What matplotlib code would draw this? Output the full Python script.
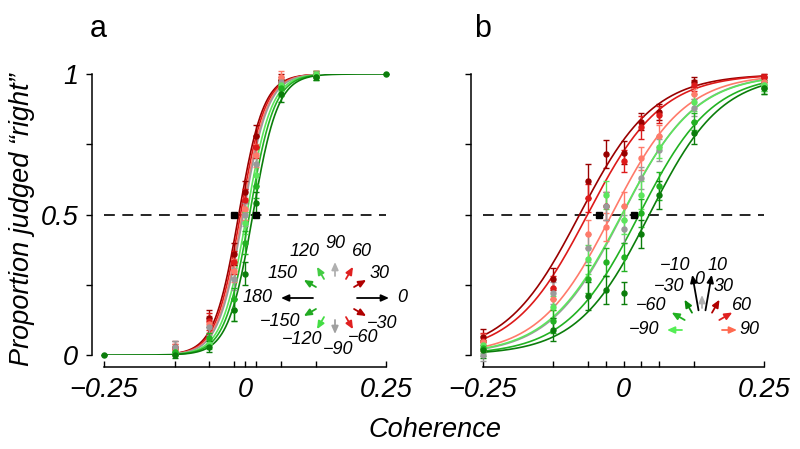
import matplotlib
matplotlib.use("Agg")
import matplotlib.pyplot as plt
import numpy as np

plt.rcParams["font.family"] = ["Liberation Sans", "DejaVu Sans"]

nan = np.nan

# signed coherence levels used in each experiment
coh_a = [-0.25, -0.125, -0.064, -0.02, 0.0, 0.02, 0.064, 0.125, 0.25]
coh_b = [-0.25, -0.125, -0.064, -0.032, 0.0, 0.032, 0.064, 0.125, 0.25]
xtick_labels = ["\u22120.25", "", "", "", "0", "", "", "", "0.25"]
ytick_vals = [0, 0.25, 0.5, 0.75, 1]
ytick_labels = ["0", "", "0.5", "", "1"]

# condition colours, dark red -> dark green
cond_colors = ["#990000", "#dd1a1a", "#ff7a6a", "#9a9a9a", "#5ce65c", "#22b222", "#0b7d0b"]

# panel a: proportion judged right (rows follow cond_colors)
prop_a = [
    [nan, 0.03, 0.13, 0.36, 0.58, 0.78, 0.98, 1.00, nan],
    [nan, 0.02, 0.12, 0.33, 0.55, 0.74, 0.97, 1.00, nan],
    [nan, 0.02, 0.11, 0.30, 0.52, 0.71, 0.99, 1.00, nan],
    [nan, 0.03, 0.10, 0.27, 0.50, 0.68, 0.97, 1.00, nan],
    [nan, 0.01, 0.04, 0.16, 0.47, 0.64, 0.96, 1.00, nan],
    [nan, 0.01, 0.06, 0.20, 0.40, 0.60, 0.95, 0.99, nan],
    [0.00, 0.00, 0.03, 0.16, 0.29, 0.54, 0.93, 0.99, 1.00],
]
err_a = [
    [nan, 0.02, 0.03, 0.04, 0.04, 0.04, 0.02, 0.01, nan],
    [nan, 0.02, 0.03, 0.04, 0.04, 0.04, 0.02, 0.01, nan],
    [nan, 0.02, 0.03, 0.04, 0.04, 0.04, 0.02, 0.01, nan],
    [nan, 0.02, 0.03, 0.04, 0.04, 0.04, 0.02, 0.01, nan],
    [nan, 0.01, 0.02, 0.04, 0.04, 0.04, 0.02, 0.01, nan],
    [nan, 0.01, 0.02, 0.04, 0.04, 0.04, 0.03, 0.01, nan],
    [0.00, 0.01, 0.02, 0.04, 0.04, 0.04, 0.03, 0.01, 0.00],
]
mu_a = [-0.011, -0.008, -0.005, -0.003, 0.003, 0.008, 0.014]
sig_a = [0.022, 0.022, 0.022, 0.022, 0.022, 0.022, 0.022]
pse_a = [-0.019, 0.02]

# panel b
prop_b = [
    [0.064, 0.27, 0.62, 0.715, 0.72, 0.83, 0.865, 0.97, 0.99],
    [0.05, 0.24, 0.56, 0.53, 0.69, 0.81, 0.855, 0.96, 0.99],
    [0.046, 0.20, 0.43, 0.455, 0.53, 0.70, 0.78, 0.93, 0.97],
    [0.00, 0.22, 0.38, 0.53, 0.45, 0.63, 0.73, 0.88, 0.96],
    [0.036, 0.17, 0.34, 0.57, 0.48, 0.57, 0.74, 0.90, 0.96],
    [0.025, 0.12, 0.27, 0.33, 0.35, 0.505, 0.60, 0.83, 0.95],
    [0.018, 0.09, 0.21, 0.23, 0.22, 0.43, 0.57, 0.79, 0.95],
]
err_b = [
    [0.03, 0.04, 0.06, 0.05, 0.04, 0.03, 0.03, 0.02, 0.01],
    [0.03, 0.04, 0.05, 0.05, 0.04, 0.04, 0.03, 0.02, 0.01],
    [0.03, 0.04, 0.05, 0.05, 0.05, 0.04, 0.04, 0.02, 0.01],
    [0.02, 0.04, 0.05, 0.05, 0.05, 0.04, 0.04, 0.03, 0.02],
    [0.03, 0.04, 0.05, 0.05, 0.05, 0.05, 0.04, 0.03, 0.02],
    [0.03, 0.04, 0.05, 0.05, 0.05, 0.05, 0.05, 0.03, 0.02],
    [0.03, 0.04, 0.05, 0.05, 0.04, 0.05, 0.05, 0.04, 0.02],
]
mu_b = [-0.078, -0.064, -0.021, -0.002, -0.003, 0.028, 0.046]
sig_b = [0.066, 0.066, 0.065, 0.065, 0.066, 0.065, 0.064]
pse_b = [-0.044, 0.018]

# direction keys
dirs_a = [0, 30, 60, 90, 120, 150, 180, -150, -120, -90, -60, -30]
dir_colors_a = ["black", "#b00000", "#e02020", "#b0b0b0", "#44cc44", "#22aa22",
                "black", "#22aa22", "#44dd44", "#a0a0a0", "#e02020", "#b00000"]
dirs_b = [-90, -60, -30, -10, 0, 10, 30, 60, 90]
dir_colors_b = ["#55ee55", "#22b222", "#0b8a0b", "black", "#b0b0b0", "black",
                "#b00000", "#e02020", "#ff6a50"]

# label placement of key a (pixel offsets from the key centre)
lab_off_a = [(62, 0), (45, -25), (27, -46), (0, -55), (-30, -46), (-52, -25),
             (-62, 0), (-55, 23), (-33, 42), (3, 51), (28, 40), (47, 25)]

W, H = 800, 449
fig = plt.figure(figsize=(W / 100, H / 100), dpi=100)


def setup(ax, ticks, show_ylabels):
    ax.set_xlim(-0.25, 0.25)
    ax.set_ylim(0, 1)
    for s in ["top", "right"]:
        ax.spines[s].set_visible(False)
    ax.spines["left"].set_position(("outward", 8.5))
    ax.spines["bottom"].set_position(("outward", 8.5))
    ax.spines["left"].set_bounds(0, 1)
    ax.spines["bottom"].set_bounds(-0.25, 0.25)
    for s in ["left", "bottom"]:
        ax.spines[s].set_linewidth(1.1)
    ax.set_xticks(ticks)
    ax.set_xticklabels(xtick_labels, fontsize=19.5, style="italic")
    ax.set_yticks(ytick_vals)
    ax.set_yticklabels(ytick_labels if show_ylabels else [], fontsize=19.5, style="italic")
    ax.tick_params(axis="x", direction="in", length=4, width=1, pad=7)
    ax.tick_params(axis="y", direction="out", length=4, width=1, pad=6)
    ax.axhline(0.5, color="black", lw=1.2, ls=(0, (6.5, 4.5)), zorder=1)


def draw(ax, coh, props, errs, mus, sigs, pse):
    coh = np.array(coh)
    for p, e, mu, sg, col in zip(props, errs, mus, sigs, cond_colors):
        p = np.array(p)
        e = np.array(e)
        ok = ~np.isnan(p)
        xx = np.linspace(coh[ok].min(), coh[ok].max(), 300)
        ax.plot(xx, 1 / (1 + np.exp(-(xx - mu) / sg)), color=col, lw=1.2, zorder=2)
        ax.errorbar(coh[ok], p[ok], yerr=e[ok], fmt="o", ms=3.6, color=col,
                    ecolor=col, elinewidth=1, capsize=2.5, capthick=1,
                    clip_on=False, zorder=3)
    ax.plot(pse, [0.5, 0.5], "s", color="black", ms=5, zorder=4)


ax_a = fig.add_axes([104 / W, 1 - 355 / H, 282 / W, 281 / H])
setup(ax_a, coh_a, True)
draw(ax_a, coh_a, prop_a, err_a, mu_a, sig_a, pse_a)

ax_b = fig.add_axes([483 / W, 1 - 355 / H, 281 / W, 281 / H])
setup(ax_b, coh_b, False)
draw(ax_b, coh_b, prop_b, err_b, mu_b, sig_b, pse_b)

fig.text(98 / W, 1 - 37 / H, "a", fontsize=22, ha="center", va="baseline")
fig.text(483 / W, 1 - 37 / H, "b", fontsize=22, ha="center", va="baseline")
fig.text(22 / W, 1 - 220 / H, "Proportion judged \u201cright\u201d", rotation=90,
         fontsize=19.5, style="italic", ha="center", va="center")
fig.text(435 / W, 1 - 430 / H, "Coherence", fontsize=19.5, style="italic",
         ha="center", va="center")

# overlay in pixel coordinates for the direction keys
ov = fig.add_axes([0, 0, 1, 1])
ov.set_xlim(0, W)
ov.set_ylim(H, 0)
ov.axis("off")
ov.patch.set_alpha(0)


def arrow(x0, y0, x1, y1, col):
    ov.annotate("", xy=(x1, y1), xytext=(x0, y0),
                arrowprops=dict(arrowstyle="-|>,head_length=0.45,head_width=0.2",
                                color=col, lw=1.3, shrinkA=0, shrinkB=0,
                                mutation_scale=10))


# key a: counter-clockwise from rightward
cx, cy = 335, 298
for d, col, (dx, dy) in zip(dirs_a, dir_colors_a, lab_off_a):
    t = np.deg2rad(d)
    ux, uy = np.cos(t), -np.sin(t)
    r1 = 54 if col == "black" else 36
    arrow(cx + 22 * ux, cy + 22 * uy, cx + r1 * ux, cy + r1 * uy, col)
    lab = str(d).replace("-", "\u2212")
    ha = "right" if d == 180 else ("left" if d == 0 else "center")
    ov.text(cx + dx, cy + dy, lab, fontsize=13, style="italic", ha=ha, va="center")

# key b: clockwise from upward
cx, cy = 702, 330
for d, col in zip(dirs_b, dir_colors_b):
    t = np.deg2rad(d)
    ux, uy = np.sin(t), -np.cos(t)
    r1 = 56 if col == "black" else 35
    r0 = 22 if d == 0 else 20
    arrow(cx + r0 * ux, cy + r0 * uy, cx + r1 * ux, cy + r1 * uy, col)
    lab = str(d).replace("-", "\u2212")
    if abs(d) == 10:
        tl = np.deg2rad(16 * np.sign(d))
        lx, ly = cx + 67 * np.sin(tl), cy - 67 * np.cos(tl)
    else:
        lx, ly = cx + 50 * ux, cy + 50 * uy
    if d < 0:
        lx -= 5
    ov.text(lx - 3, ly, lab, fontsize=13, style="italic", ha="center", va="center")

fig.savefig("out.png", dpi=100)
